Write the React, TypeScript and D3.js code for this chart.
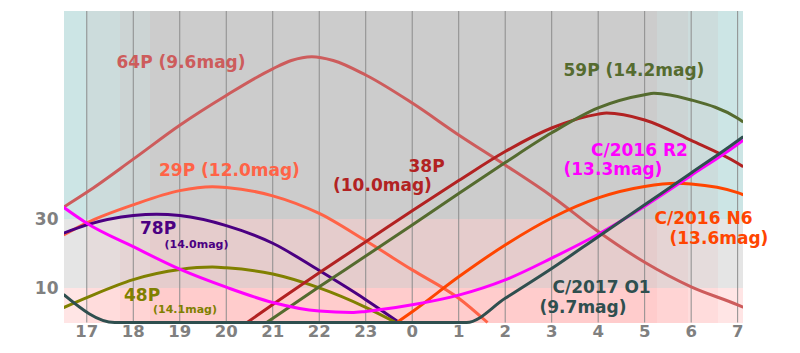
import * as d3 from 'd3';

// hours are counted from noon-ish: 24 = midnight, 31 = 7 am
const hourTicks = [17, 18, 19, 20, 21, 22, 23, 24, 25, 26, 27, 28, 29, 30, 31];
const altTicks = [10, 30];

// sunset / civil / nautical / astronomical, then the same at dawn
const twilightEdges = [16.51, 17.0, 17.72, 18.36, 29.26, 29.93, 30.57, 31.115];
const twilightLevels = [3, 2, 1, 0, 1, 2, 3];
const altBands = [0, 10, 30, 90];

// [hour, altitude in degrees]
const alt64P = [[16.5, 33.3], [17, 37.6], [18, 47.2], [19, 57], [20, 65.6], [21, 73.3], [21.4, 75.7], [21.84, 76.8], [22.3, 75.7], [23, 71.5], [24, 63.4], [25, 54.2], [26, 45.5], [27, 36.5], [28, 26.3], [29, 17.4], [30, 10.3], [31, 5.1], [31.12, 4.4]];
const alt29P = [[16.5, 25.3], [17, 28.8], [18, 34], [19, 38.1], [19.7, 39.2], [20, 39.0], [21, 36.6], [22, 31.5], [23, 23.6], [24, 15.2], [25, 7.0], [25.62, 0]];
const alt78P = [[16.5, 25.8], [17, 28.2], [18, 30.9], [18.5, 31.3], [19, 30.9], [20, 28.0], [21, 22.9], [22, 15.0], [23, 6.6], [23.72, 0]];
const alt48P = [[16.5, 4.3], [17, 7.2], [18, 12.4], [19, 15.3], [19.7, 16], [20, 15.8], [21, 14.0], [22, 10.0], [23, 4.4], [23.65, 0]];
const alt38P = [[20.45, 0], [21, 5.2], [22, 14.4], [23, 23.3], [24, 32.3], [25, 41], [26, 49.4], [27, 56.2], [28, 60.2], [28.18, 60.5], [29, 58.5], [30, 52.6], [31, 46], [31.12, 45]];
const alt59P = [[20.87, 0], [22, 10.3], [23, 19.2], [24, 28.2], [25, 37.3], [26, 46.2], [27, 54.8], [28, 62], [29, 65.8], [29.2, 66.2], [30, 64.3], [31, 59], [31.12, 57.9]];
const altN6 = [[23.67, 0], [24, 3.1], [25, 13.2], [26, 22.4], [27, 30.2], [28, 36], [29, 39.3], [29.7, 40.2], [30, 40], [31, 37.5], [31.12, 36.9]];
const altR2 = [[16.5, 33.3], [17, 28.7], [18, 21.9], [19, 15.4], [20, 10.2], [21, 5.8], [22, 3.3], [22.7, 2.9], [23, 3.2], [24, 5.1], [25, 7.9], [26, 12.3], [27, 18.6], [28, 25.5], [29, 33.6], [30, 42.5], [31, 51.5], [31.12, 52.7]];
const altO1 = [[16.5, 8.1], [17.6, 0], [25.17, 0], [26, 7.0], [27, 15.6], [28, 24.8], [29, 34], [30, 43.2], [31, 52.5], [31.12, 53.7]];

const comets = [
  { id: '64P', values: alt64P, color: '#cd5c5c' },
  { id: '29P', values: alt29P, color: '#ff6347' },
  { id: '78P', values: alt78P, color: '#4b0082' },
  { id: '48P', values: alt48P, color: '#808000' },
  { id: '38P', values: alt38P, color: '#b22222' },
  { id: '59P', values: alt59P, color: '#556b2f' },
  { id: 'N6', values: altN6, color: '#ff4500' },
  { id: 'R2', values: altR2, color: '#ff00ff' },
  { id: 'O1', values: altO1, color: '#2f4f4f' },
];

// label text lines: [text, size]
const labelText = {
  '64P': [['64P (9.6mag)', 17]],
  '29P': [['29P (12.0mag)', 17]],
  '78P': [['78P', 17], ['(14.0mag)', 11]],
  '48P': [['48P', 17], ['(14.1mag)', 11]],
  '38P': [['38P', 17], ['(10.0mag)', 17]],
  '59P': [['59P (14.2mag)', 17]],
  'R2': [['C/2016 R2', 17], ['(13.3mag)', 17]],
  'N6': [['C/2016 N6', 17], ['(13.6mag)', 17]],
  'O1': [['C/2017 O1', 17], ['(9.7mag)', 17]],
};

// pixel placement of each label line (left x, baseline y)
const labelPos = {
  '64P': [[116.5, 68]],
  '29P': [[159, 176]],
  '78P': [[140, 234], [164.5, 248]],
  '48P': [[124, 300.5], [153, 312.5]],
  '38P': [[408.5, 171.5], [333, 190.5]],
  '59P': [[563.5, 75.5]],
  'R2': [[591, 156], [563.5, 175]],
  'N6': [[654.5, 224], [669.5, 244]],
  'O1': [[552.5, 292.5], [539.5, 312.5]],
};

const W = 800;
const H = 353;
const left = 64;
const right = 743;
const top = 11;
const bottom = 322.5;

export default function App() {
  const x = d3.scaleLinear().domain([16.51, 31.115]).range([left, right]);
  const y = d3.scaleLinear().domain([0, 90]).range([bottom, top]);

  const line = d3
    .line<number[]>()
    .x((d) => x(d[0]))
    .y((d) => y(d[1]))
    .curve(d3.curveMonotoneX);

  // R channel from altitude band, G/B from twilight level
  const redByBand = [255, 229, 204];
  const gbByLevel = [204, 212, 220, 229];

  const cells = [];
  for (let i = 0; i < twilightLevels.length; i++) {
    for (let j = 0; j < altBands.length - 1; j++) {
      const gb = gbByLevel[twilightLevels[i]];
      cells.push({
        key: `${i}-${j}`,
        x0: x(twilightEdges[i]),
        x1: x(twilightEdges[i + 1]),
        y0: y(altBands[j + 1]),
        y1: y(altBands[j]),
        fill: d3.rgb(redByBand[j], gb, gb).formatHex(),
      });
    }
  }

  const font = { fontFamily: 'DejaVu Sans', fontWeight: 'bold' as const };

  return (
    <svg width={W} height={H} style={{ position: 'absolute', left: 0, top: 0 }}>
      <defs>
        <clipPath id="plot">
          <rect x={left} y={top} width={right - left} height={bottom - top + 3} />
        </clipPath>
      </defs>
      {cells.map((c) => (
        <rect key={c.key} x={c.x0} y={c.y0} width={c.x1 - c.x0} height={c.y1 - c.y0} fill={c.fill} shapeRendering="crispEdges" />
      ))}
      {hourTicks.map((h) => (
        <line key={h} x1={x(h)} x2={x(h)} y1={top} y2={bottom} stroke="#8c8c8c" strokeWidth={1} />
      ))}
      <g clipPath="url(#plot)">
        {comets.map((c) => (
          <path key={c.id} d={line(c.values as number[][]) || ''} fill="none" stroke={c.color} strokeWidth={3} />
        ))}
      </g>
      {comets.map((c) =>
        labelText[c.id].map(([t, size], k) => (
          <text key={c.id + k} x={labelPos[c.id][k][0]} y={labelPos[c.id][k][1]} fill={c.color} fontSize={size} {...font}>
            {t}
          </text>
        ))
      )}
      {hourTicks.map((h) => (
        <text key={'t' + h} x={x(h)} y={336.5} textAnchor="middle" fill="#808080" fontSize={16.5} {...font}>
          {h % 24}
        </text>
      ))}
      {altTicks.map((a) => (
        <text key={'a' + a} x={58.5} y={y(a) + 6.5} textAnchor="end" fill="#808080" fontSize={17} {...font}>
          {a}
        </text>
      ))}
    </svg>
  );
}
